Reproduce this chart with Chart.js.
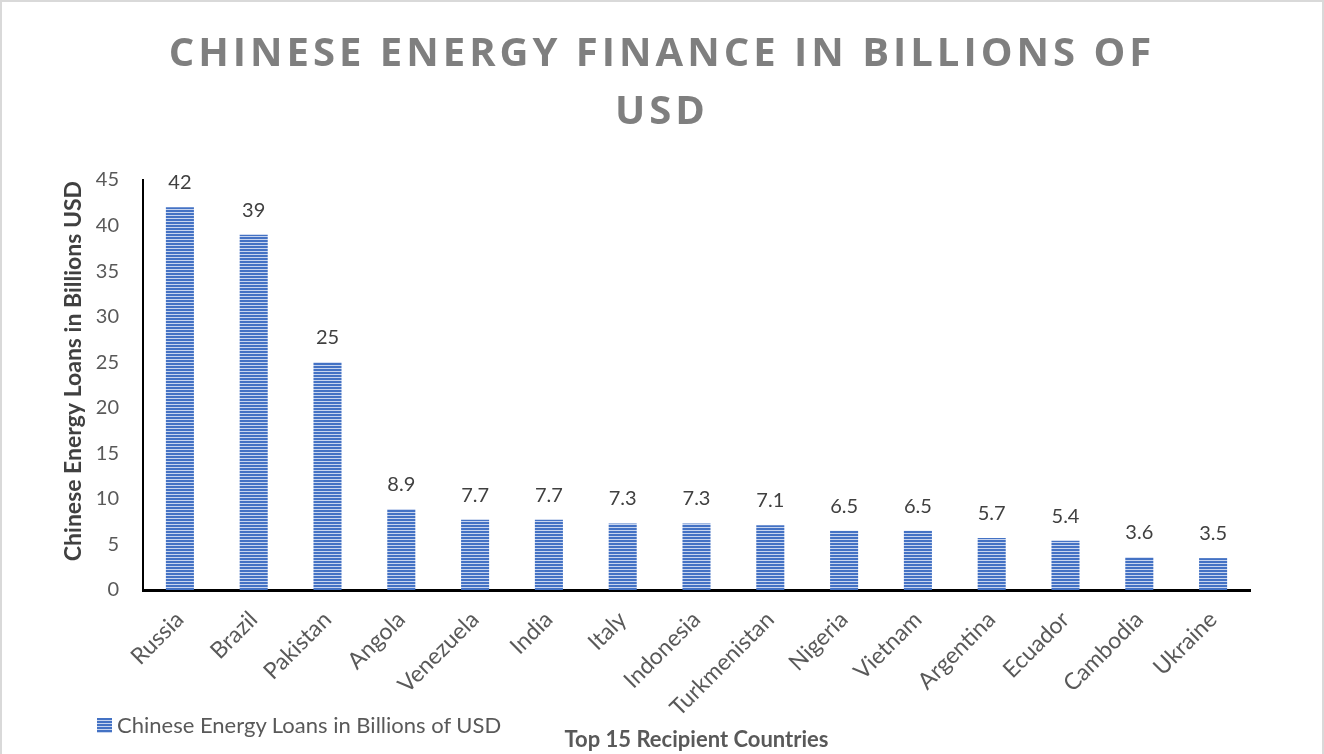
<!DOCTYPE html>
<html>
<head>
<meta charset="utf-8">
<title>Chinese Energy Finance</title>
<script src="https://cdn.jsdelivr.net/npm/chart.js@4.4.1/dist/chart.umd.min.js"></script>
<style>
  html, body { margin: 0; padding: 0; background: #fff; }
  #wrap { position: relative; width: 1324px; height: 754px; overflow: hidden; font-family: Lato, sans-serif; }
  #chart { position: absolute; left: 0; top: 0; }
  .edge { position: absolute; left: 0; top: 0; width: 1324px; height: 760px; box-sizing: border-box;
          border: 2px solid #d9d9d9; pointer-events: none; }
  .title { position: absolute; left: 0; width: 1324px; top: 22px; text-align: center;
           font-family: 'Open Sans', sans-serif;
           font-weight: 700; font-size: 40px; line-height: 58px; letter-spacing: 4px; color: #7f7f7f; }
  .legend { position: absolute; left: 97px; top: 711px; font-size: 22px; line-height: 28px; color: #595959;
            display: flex; align-items: center; }
  .legend .swatch { width: 15px; height: 15px; margin-right: 5px;
            background: repeating-linear-gradient(to bottom, #4472c4 0, #4472c4 2px, #c8d5ef 2px, #c8d5ef 3px); }
</style>
</head>
<body>
<div id="wrap">
  <canvas id="chart" width="1324" height="754"></canvas>
  <div class="title">CHINESE ENERGY FINANCE IN BILLIONS OF<br>USD</div>
  <div class="legend"><span class="swatch"></span><span>Chinese Energy Loans in Billions of USD</span></div>
  <div class="edge"></div>
</div>
<script>
/* ── Data ── */
const countries = ['Russia', 'Brazil', 'Pakistan', 'Angola', 'Venezuela', 'India', 'Italy', 'Indonesia',
                   'Turkmenistan', 'Nigeria', 'Vietnam', 'Argentina', 'Ecuador', 'Cambodia', 'Ukraine'];
const loans     = [42, 39, 25, 8.9, 7.7, 7.7, 7.3, 7.3, 7.1, 6.5, 6.5, 5.7, 5.4, 3.6, 3.5];
const yTicks    = [0, 5, 10, 15, 20, 25, 30, 35, 40, 45];

const seriesName = 'Chinese Energy Loans in Billions of USD';
const yTitle     = '     Chinese Energy Loans in Billions USD'; // leading spaces nudge it upward
const xTitle     = 'Top 15 Recipient Countries';

Chart.defaults.font.family = "Lato, sans-serif";

const canvas = document.getElementById('chart');
const ctx = canvas.getContext('2d');

// horizontal stripe fill like the Excel pattern
function stripes() {
  const p = document.createElement('canvas');
  p.width = 4; p.height = 3;
  const g = p.getContext('2d');
  g.fillStyle = '#c8d5ef';
  g.fillRect(0, 0, 4, 3);
  g.fillStyle = '#4472c4';
  g.fillRect(0, 0, 4, 2);
  return ctx.createPattern(p, 'repeat');
}

/* ── value labels above bars ── */
const barValues = {
  id: 'barValues',
  afterDatasetsDraw(chart) {
    const c = chart.ctx;
    const meta = chart.getDatasetMeta(0);
    c.save();
    c.font = "20px Lato, sans-serif";
    c.fillStyle = '#404040';
    c.textAlign = 'center';
    c.textBaseline = 'alphabetic';
    meta.data.forEach((bar, i) => {
      c.fillText(String(chart.data.datasets[0].data[i]), bar.x, bar.y - 18);
    });
    c.restore();
  }
};

new Chart(canvas, {
  type: 'bar',
  data: {
    labels: countries,
    datasets: [{
      label: seriesName,
      data: loans,
      backgroundColor: stripes(),
      borderWidth: 0,
      barPercentage: 0.38,
      categoryPercentage: 1
    }]
  },
  options: {
    responsive: false,
    animation: false,
    layout: { padding: { top: 180, left: 40, right: 74, bottom: 0 } },
    plugins: {
      legend: { display: false },
      title: { display: false },
      tooltip: { enabled: false }
    },
    scales: {
      x: {
        grid: { display: false, drawTicks: false },
        border: { display: true, color: '#000', width: 3 },
        ticks: {
          color: '#595959',
          font: { size: 23 },
          minRotation: 45,
          maxRotation: 45,
          autoSkip: false,
          padding: 16
        },
        title: {
          display: true,
          text: xTitle,
          color: '#595959',
          font: { size: 22, weight: 'bold' },
          padding: { top: 0, bottom: 1 }
        },
        afterFit: s => { s.height = 164; }
      },
      y: {
        min: 0,
        max: 45,
        grid: { display: false, drawTicks: false },
        border: { display: true, color: '#000', width: 2 },
        ticks: { color: '#595959', font: { size: 20 }, padding: 24 },
        afterBuildTicks: s => { s.ticks = yTicks.map(v => ({ value: v })); },
        title: {
          display: true,
          text: yTitle,
          color: '#404040',
          font: { size: 23, weight: 'bold' },
          padding: { top: 20, bottom: 0 }
        },
        afterFit: s => { s.width = 103; }
      }
    }
  },
  plugins: [barValues]
});
</script>
</body>
</html>
